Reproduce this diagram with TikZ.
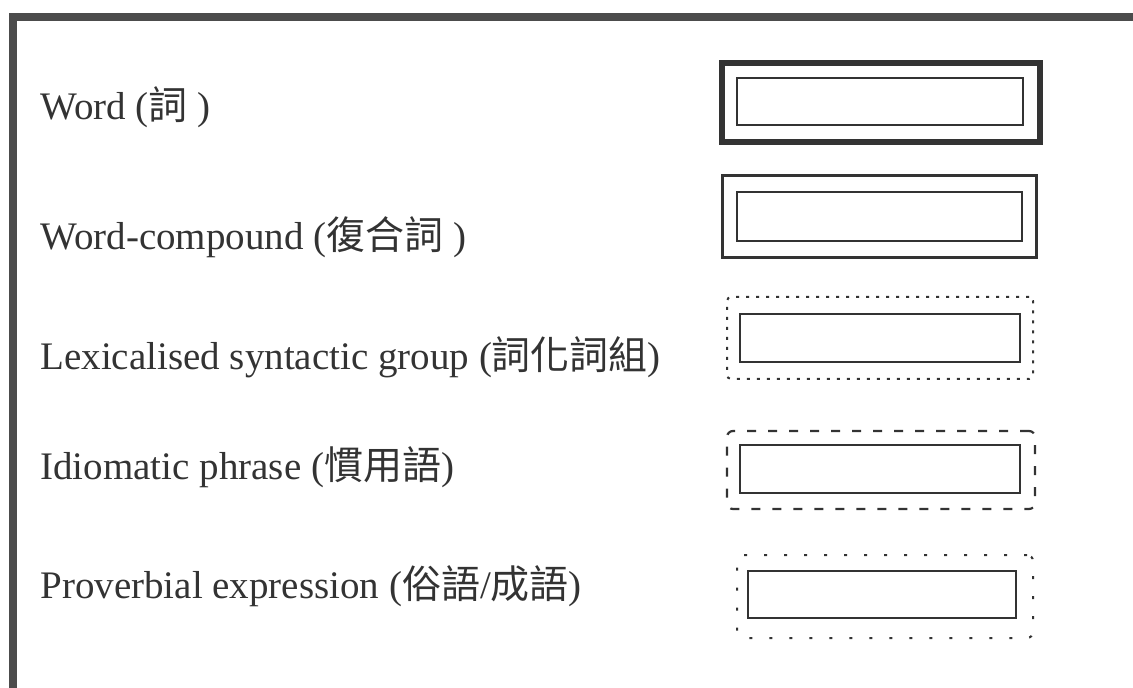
\documentclass[tikz,border=0pt]{standalone}
\usepackage{fontspec}
\setmainfont{Liberation Serif}
\newfontfamily\cjk{Noto Sans CJK TC}
\definecolor{ink}{gray}{0.2}
\definecolor{frameink}{gray}{0.3}
\begin{document}
\begin{tikzpicture}[x=0.5pt,y=-0.5pt,
  lbl/.style={anchor=base west,inner sep=0pt,text=ink,font=\fontsize{19.5pt}{23pt}\selectfont},
  bx/.style={draw=ink,inner sep=0pt,outer sep=0pt},
  thickouter/.style={bx,line width=2.6pt},
  thinouter/.style={bx,line width=1.5pt},
  innerbox/.style={bx,line width=1.4pt},
  dotouter/.style={bx,line width=1pt,dash pattern=on 1.5pt off 3.5pt,rounded corners=2pt},
  dashouter/.style={bx,line width=1.1pt,dash pattern=on 4.5pt off 6pt,rounded corners=3pt},
  sparseouter/.style={bx,line width=1pt,dash pattern=on 1.5pt off 8.5pt,rounded corners=3pt},
  frameline/.style={draw=frameink,line width=4pt}
]
\useasboundingbox (0,0) rectangle (1133,688);
% frame (top and left)
\coordinate (ftl) at (13,17);
\coordinate (ftr) at (1133,17);
\coordinate (fbl) at (13,688);
\draw[frameline] (ftr) -- (ftl) -- (fbl);
% labels
\node[lbl] (t1) at (40,120) {Word ({\cjk 詞} )};
\node[lbl] (t2) at (40,250) {Word-compound ({\cjk 復合詞} )};
\node[lbl] (t3) at (40,370) {Lexicalised syntactic group ({\cjk 詞化詞組})};
\node[lbl] (t4) at (40,480) {Idiomatic phrase ({\cjk 慣用語})};
\node[lbl] (t5) at (40,598) {Proverbial expression ({\cjk 俗語}/{\cjk 成語})};
% boxes
\node[thickouter,minimum width=159pt,minimum height=39.5pt] (b1o) at (881,102.5) {};
\node[innerbox,minimum width=143pt,minimum height=23.5pt] (b1i) at (880,101.5) {};
\node[thinouter,minimum width=157pt,minimum height=41pt] (b2o) at (879,217) {};
\node[innerbox,minimum width=142.5pt,minimum height=24.5pt] (b2i) at (879.5,216.5) {};
\node[dotouter,minimum width=153pt,minimum height=41pt] (b3o) at (880,338) {};
\node[innerbox,minimum width=140pt,minimum height=24pt] (b3i) at (880,338) {};
\node[dashouter,minimum width=154pt,minimum height=39pt] (b4o) at (881,470) {};
\node[innerbox,minimum width=140pt,minimum height=24pt] (b4i) at (880,469) {};
\node[sparseouter,minimum width=148pt,minimum height=41.5pt] (b5o) at (885,596.5) {};
\node[innerbox,minimum width=134pt,minimum height=23.5pt] (b5i) at (882,594.5) {};
\end{tikzpicture}
\end{document}
